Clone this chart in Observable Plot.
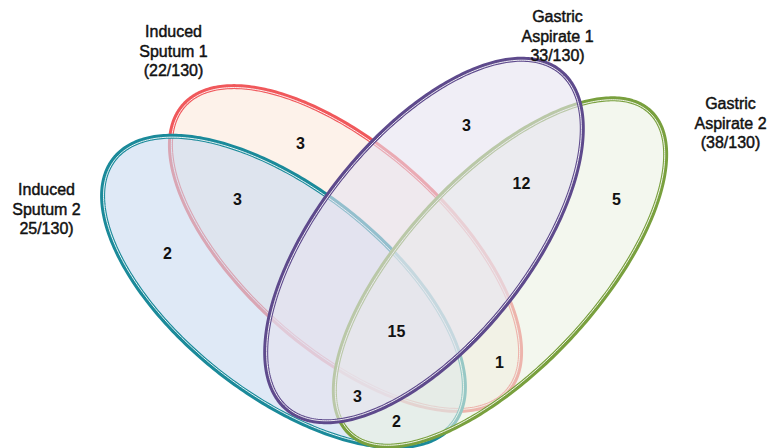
<!DOCTYPE html>
<html>
<head>
<meta charset="utf-8">
<script src="https://cdn.jsdelivr.net/npm/d3@7"></script>
<script src="https://cdn.jsdelivr.net/npm/@observablehq/plot@0.6"></script>
<style>
  html, body { margin: 0; padding: 0; background: #fff; }
  #chart svg { display: block; }
</style>
</head>
<body>
<div id="chart"></div>
<script>
// ---- data ----
const sets = ["Induced Sputum 1", "Induced Sputum 2", "Gastric Aspirate 1", "Gastric Aspirate 2"];
const setLabelLines = [
  ["Induced", "Sputum 1", "(22/130)"],
  ["Induced", "Sputum 2", "25/130)"],
  ["Gastric", "Aspirate 1", "33/130)"],
  ["Gastric", "Aspirate 2", "(38/130)"]
];
const regionNames = [
  "IS1 only", "IS1 & IS2", "IS2 only", "GA1 only", "GA1 & GA2",
  "GA2 only", "all four", "IS1 & GA2", "IS2 & GA1 & GA2", "IS2 & GA2"
];
const regionCounts = [3, 3, 2, 3, 12, 5, 15, 1, 3, 2];

// ---- layout (positions / shapes, pixel units) ----
const ellCx = [345, 283, 423.5, 499.5];
const ellCy = [248, 291, 240, 272];
const ellRx = [216, 215, 217, 220];
const ellRy = [101, 103, 104, 96];
const ellRot = [41.5, 38, -51.2, -47];
const drawOrder = [0, 1, 3, 2];
const strokeColors = ["#f0585b", "#1b8a9a", "#5e4a8c", "#79a03e"];
const fillColors = ["#fce9dc", "#cadaf0", "#e6e3f0", "#ebf2e3"];
const labelX = [173, 46, 557, 730];
const labelY = [50, 208, 35, 122];
const regionX = [300, 237, 167, 466, 521, 616, 396, 499, 357, 396];
const regionY = [143, 199, 253, 125, 183, 199, 331, 362, 396, 421];

function ellipsePoints(i, shrink) {
  const a = ellRx[i] - shrink, b = ellRy[i] - shrink;
  const th = ellRot[i] * Math.PI / 180;
  const pts = [];
  for (let k = 0; k < 360; k += 1) {
    const t = k * Math.PI / 180;
    pts.push({
      set: sets[i],
      x: ellCx[i] + a * Math.cos(t) * Math.cos(th) - b * Math.sin(t) * Math.sin(th),
      y: ellCy[i] + a * Math.cos(t) * Math.sin(th) + b * Math.sin(t) * Math.cos(th)
    });
  }
  return pts;
}

const ellipseMarks = drawOrder.flatMap(i => [
  Plot.line(ellipsePoints(i, 0), {
    x: "x", y: "y", curve: "linear-closed",
    fill: fillColors[i], fillOpacity: 0.6,
    stroke: strokeColors[i], strokeWidth: 5
  }),
  Plot.line(ellipsePoints(i, 1), {
    x: "x", y: "y", curve: "linear-closed",
    fill: "none", stroke: "white", strokeWidth: 0.9
  })
]);

const regionData = regionCounts.map((c, i) => ({name: regionNames[i], count: c, x: regionX[i], y: regionY[i]}));
const labelData = sets.map((s, i) => ({set: s, text: setLabelLines[i].join("\n"), x: labelX[i], y: labelY[i]}));

const chart = Plot.plot({
  width: 769,
  height: 448,
  margin: 0,
  style: { background: "#fff", fontFamily: "'Liberation Sans', Arial, sans-serif" },
  x: { domain: [0, 769], range: [0, 769], axis: null },
  y: { domain: [0, 448], range: [0, 448], axis: null },
  marks: [
    ...ellipseMarks,
    Plot.text(regionData, {
      x: "x", y: "y", text: d => String(d.count),
      fontSize: 16, fontWeight: "bold", fill: "#111"
    }),
    Plot.text(labelData, {
      x: "x", y: "y", text: "text",
      fontSize: 16, lineHeight: 1.22, fill: "#111", stroke: "#111", strokeWidth: 0.45,
      lineAnchor: "middle"
    })
  ]
});
document.getElementById("chart").appendChild(chart);
</script>
</body>
</html>
